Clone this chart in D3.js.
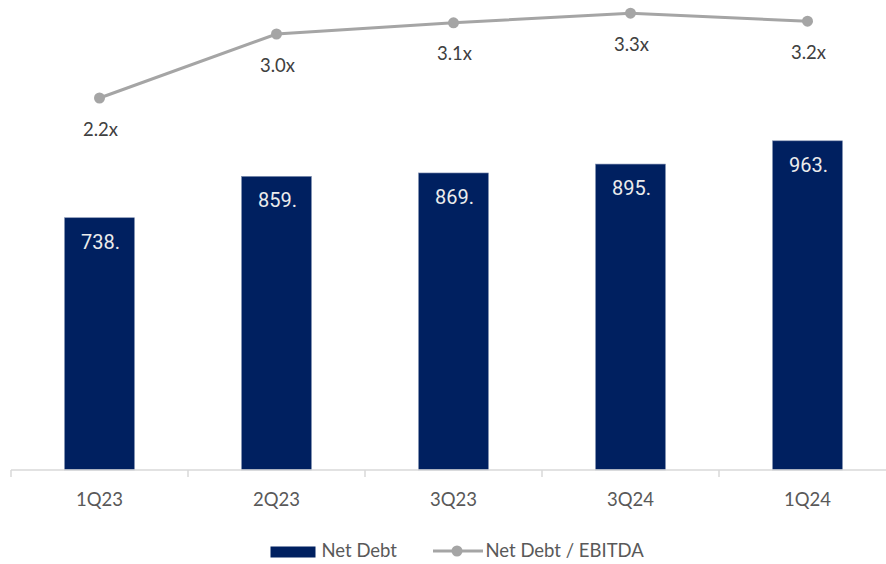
<!DOCTYPE html>
<html>
<head>
<meta charset="utf-8">
<script src="https://cdn.jsdelivr.net/npm/d3@7"></script>
<style>
  body { margin: 0; background: #fff; }
  svg { display: block; }
</style>
</head>
<body>
<div id="chart"></div>
<script>
// data
const quarters = ["1Q23", "2Q23", "3Q23", "3Q24", "1Q24"];
const netDebt = [738, 859, 869, 895, 963];
const netDebtLabels = ["738.", "859.", "869.", "895.", "963."];
const leverage = [2.2, 3.0, 3.14, 3.26, 3.16];
const leverageLabels = ["2.2x", "3.0x", "3.1x", "3.3x", "3.2x"];

const width = 886, height = 564;
const baseY = 470;
const textFont = "Lato, 'Open Sans', sans-serif";

const svg = d3.select("#chart").append("svg")
  .attr("width", width)
  .attr("height", height);

const x = d3.scaleBand().domain(quarters).range([11, 896]).padding(0);
const yBar = d3.scaleLinear().domain([0, 1375]).range([baseY, 0]);
const yLine = d3.scaleLinear().domain([-2.45, 3.4]).range([baseY, 2]);

const barW = x.bandwidth() * 0.395;
const cx = d => x(d) + x.bandwidth() / 2;

// bars
svg.append("g").selectAll("rect")
  .data(quarters)
  .enter().append("rect")
  .attr("x", d => cx(d) - barW / 2)
  .attr("y", (d, i) => yBar(netDebt[i]))
  .attr("width", barW)
  .attr("height", (d, i) => baseY - yBar(netDebt[i]))
  .attr("fill", "#002060")
  .attr("stroke", "#7f8fb0")
  .attr("stroke-width", 0.6);

svg.append("g").selectAll("text")
  .data(quarters)
  .enter().append("text")
  .attr("x", d => cx(d) + 1)
  .attr("y", (d, i) => yBar(netDebt[i]) + 31)
  .attr("text-anchor", "middle")
  .style("font-family", "Roboto, sans-serif")
  .style("font-size", "20px")
  .attr("fill", "#ececec")
  .text((d, i) => netDebtLabels[i]);

// x axis
const xAxis = d3.axisBottom(x).tickSize(0).tickFormat("");
const axisG = svg.append("g").attr("transform", `translate(0,${baseY})`).call(xAxis);
axisG.select(".domain").remove();
axisG.append("line")
  .attr("x1", 11).attr("x2", width)
  .attr("stroke", "#d9d9d9").attr("stroke-width", 1.5);
const bounds = quarters.map(d => x(d)).concat([x.range()[1]]);
axisG.selectAll(".sep")
  .data(bounds)
  .enter().append("line")
  .attr("class", "sep")
  .attr("x1", d => d).attr("x2", d => d)
  .attr("y1", 0).attr("y2", 7)
  .attr("stroke", "#d9d9d9").attr("stroke-width", 1.5);

svg.append("g").selectAll("text")
  .data(quarters)
  .enter().append("text")
  .attr("x", d => cx(d))
  .attr("y", 505.5)
  .attr("text-anchor", "middle")
  .style("font-family", textFont)
  .style("font-size", "18.5px")
  .attr("fill", "#595959")
  .text(d => d);

// leverage line
const line = d3.line()
  .x((d, i) => cx(quarters[i]))
  .y(d => yLine(d));

svg.append("path")
  .datum(leverage)
  .attr("d", line)
  .attr("fill", "none")
  .attr("stroke", "#a5a5a5")
  .attr("stroke-width", 3);

svg.append("g").selectAll("circle")
  .data(leverage)
  .enter().append("circle")
  .attr("cx", (d, i) => cx(quarters[i]))
  .attr("cy", d => yLine(d))
  .attr("r", 5.5)
  .attr("fill", "#a5a5a5");

svg.append("g").selectAll("text")
  .data(leverage)
  .enter().append("text")
  .attr("x", (d, i) => cx(quarters[i]) + 1)
  .attr("y", d => yLine(d) + 37.5)
  .attr("text-anchor", "middle")
  .style("font-family", textFont)
  .style("font-size", "18.5px")
  .attr("fill", "#404040")
  .text((d, i) => leverageLabels[i]);

// legend
const legend = svg.append("g");
legend.append("rect")
  .attr("x", 270.5).attr("y", 546.5)
  .attr("width", 45).attr("height", 11)
  .attr("fill", "#002060");
legend.append("text")
  .attr("x", 321.5).attr("y", 557)
  .style("font-family", textFont)
  .style("font-size", "18.5px")
  .attr("fill", "#595959")
  .text("Net Debt");
legend.append("line")
  .attr("x1", 433).attr("x2", 483)
  .attr("y1", 551).attr("y2", 551)
  .attr("stroke", "#a5a5a5").attr("stroke-width", 3);
legend.append("circle")
  .attr("cx", 457).attr("cy", 551).attr("r", 5.5)
  .attr("fill", "#a5a5a5");
legend.append("text")
  .attr("x", 485.5).attr("y", 557)
  .style("font-family", textFont)
  .style("font-size", "18.5px")
  .attr("fill", "#595959")
  .text("Net Debt / EBITDA");
</script>
</body>
</html>
